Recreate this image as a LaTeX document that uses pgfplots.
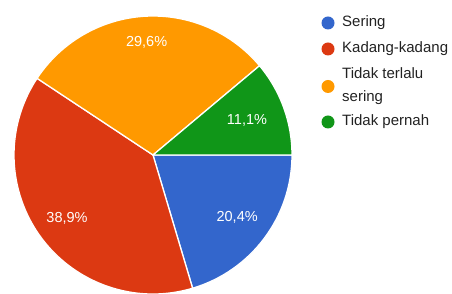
\documentclass[border=0pt]{standalone}
\usepackage{fontspec}
\setmainfont{Liberation Sans}
\usepackage{pgfplots}
\pgfplotsset{compat=1.18}
\definecolor{gblue}{HTML}{3366CC}
\definecolor{gred}{HTML}{DC3912}
\definecolor{gorange}{HTML}{FF9900}
\definecolor{ggreen}{HTML}{109618}
\definecolor{legtext}{HTML}{222222}
% slice: start percent, end percent, colour
\newcommand{\slice}[3]{%
  \fill[#3, draw=white, line width=1.3pt, line join=round]
    (axis cs:153,139) -- ++({-3.6*#1}:139pt)
    arc[start angle={-3.6*#1}, end angle={-3.6*#2}, radius=139pt] -- cycle;
}
\newcommand{\slicelabel}[4]{%
  \path (axis cs:153,139) ++({-1.8*(#1+#2)}:#4pt)
    node[text=white, font=\fontsize{14.5}{16}\selectfont] {#3};
}
\newcommand{\legitem}[3]{%
  \fill[#2] (axis cs:328,#1) circle[radius=6.5pt];
  \node[anchor=west, text=legtext, font=\fontsize{15}{23}\selectfont, align=left, inner sep=0pt] at (axis cs:342,#1) {#3};
}
\begin{document}
\begin{tikzpicture}
\begin{axis}[width=452pt, height=294pt, scale only axis,
  xmin=0, xmax=452, ymin=0, ymax=294, hide axis, clip=false]
\useasboundingbox (axis cs:0,0) rectangle (axis cs:452,294);
% Sering 20.4, Kadang-kadang 38.9, Tidak terlalu sering 29.6, Tidak pernah 11.1 (cumulative bounds)
\slice{0}{20.4}{gblue}
\slice{20.4}{59.3}{gred}
\slice{59.3}{88.9}{gorange}
\slice{88.9}{100}{ggreen}
\slicelabel{0}{20.4}{20,4\%}{105}
\slicelabel{20.4}{59.3}{38,9\%}{107}
\slicelabel{59.3}{88.9}{29,6\%}{113}
\slicelabel{88.9}{100}{11,1\%}{100}
\legitem{271}{gblue}{Sering}
\legitem{245}{gred}{Kadang-kadang}
\legitem{207.5}{gorange}{Tidak terlalu\\sering}
\legitem{172}{ggreen}{Tidak pernah}
\end{axis}
\end{tikzpicture}
\end{document}
